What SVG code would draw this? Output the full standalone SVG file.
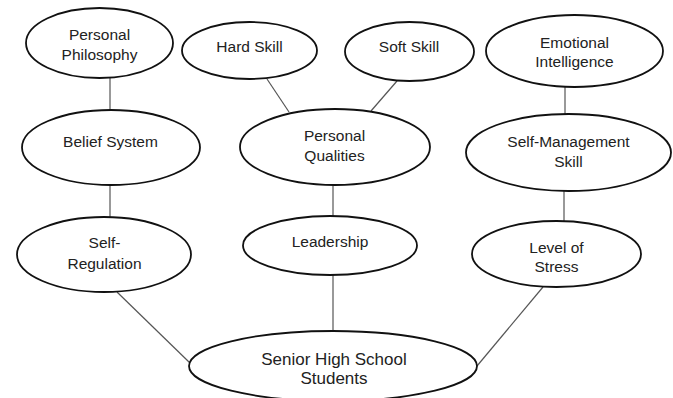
<svg xmlns="http://www.w3.org/2000/svg" width="673" height="398" viewBox="0 0 673 398">
  <style>
    .node ellipse { fill: #ffffff; stroke: #111111; stroke-width: 1.8; }
    .node text { font-family: "Liberation Sans", Arial, sans-serif; font-size: 15.5px; fill: #222222; text-anchor: middle; }
    #connectors line { stroke: #555555; stroke-width: 1.2; }
  </style>
  <rect width="673" height="398" fill="#ffffff"/>

  <g id="connectors">
    <line x1="110" y1="78" x2="110" y2="110"/>
    <line x1="267" y1="79" x2="289" y2="112"/>
    <line x1="397" y1="81" x2="371" y2="111"/>
    <line x1="565" y1="87" x2="565" y2="114"/>
    <line x1="110" y1="185" x2="110" y2="217"/>
    <line x1="333" y1="185" x2="333" y2="216"/>
    <line x1="564" y1="191" x2="564" y2="221"/>
    <line x1="117" y1="292" x2="190" y2="363"/>
    <line x1="333" y1="275" x2="333" y2="331"/>
    <line x1="543" y1="287" x2="477" y2="366"/>
  </g>

  <g id="personal-philosophy" class="node">
    <ellipse cx="99.5" cy="43" rx="73.5" ry="35"/>
    <text x="99.5" y="39.5">Personal</text>
    <text x="99.5" y="59.5">Philosophy</text>
  </g>
  <g id="hard-skill" class="node">
    <ellipse cx="249.5" cy="50.5" rx="67.5" ry="28.5"/>
    <text x="249.5" y="52">Hard Skill</text>
  </g>
  <g id="soft-skill" class="node">
    <ellipse cx="409.5" cy="51.5" rx="64.5" ry="29.5"/>
    <text x="409" y="52">Soft Skill</text>
  </g>
  <g id="emotional-intelligence" class="node">
    <ellipse cx="574.5" cy="51" rx="88.5" ry="36"/>
    <text x="574.5" y="47.5">Emotional</text>
    <text x="574.5" y="66.5">Intelligence</text>
  </g>
  <g id="belief-system" class="node">
    <ellipse cx="111" cy="147.5" rx="89" ry="37.5"/>
    <text x="110.5" y="146.5">Belief System</text>
  </g>
  <g id="personal-qualities" class="node">
    <ellipse cx="335" cy="147" rx="95" ry="38"/>
    <text x="334.5" y="141">Personal</text>
    <text x="334.5" y="160.5">Qualities</text>
  </g>
  <g id="self-management-skill" class="node">
    <ellipse cx="568.5" cy="152.5" rx="102.5" ry="38.5"/>
    <text x="568.5" y="146.5">Self-Management</text>
    <text x="568.5" y="166.5">Skill</text>
  </g>
  <g id="self-regulation" class="node">
    <ellipse cx="104" cy="254.5" rx="87" ry="37.5"/>
    <text x="104.5" y="248">Self-</text>
    <text x="104.5" y="268.5">Regulation</text>
  </g>
  <g id="leadership" class="node">
    <ellipse cx="330" cy="245.5" rx="87" ry="29.5"/>
    <text x="330" y="246.5">Leadership</text>
  </g>
  <g id="level-of-stress" class="node">
    <ellipse cx="556.5" cy="254" rx="84.5" ry="33"/>
    <text x="556.5" y="252.5">Level of</text>
    <text x="556.5" y="271.5">Stress</text>
  </g>
  <g id="senior-high-school-students" class="node">
    <ellipse cx="333" cy="366" rx="144" ry="35"/>
    <text x="334" y="364.5" style="font-size:17px">Senior High School</text>
    <text x="334" y="384" style="font-size:17px">Students</text>
  </g>
</svg>
